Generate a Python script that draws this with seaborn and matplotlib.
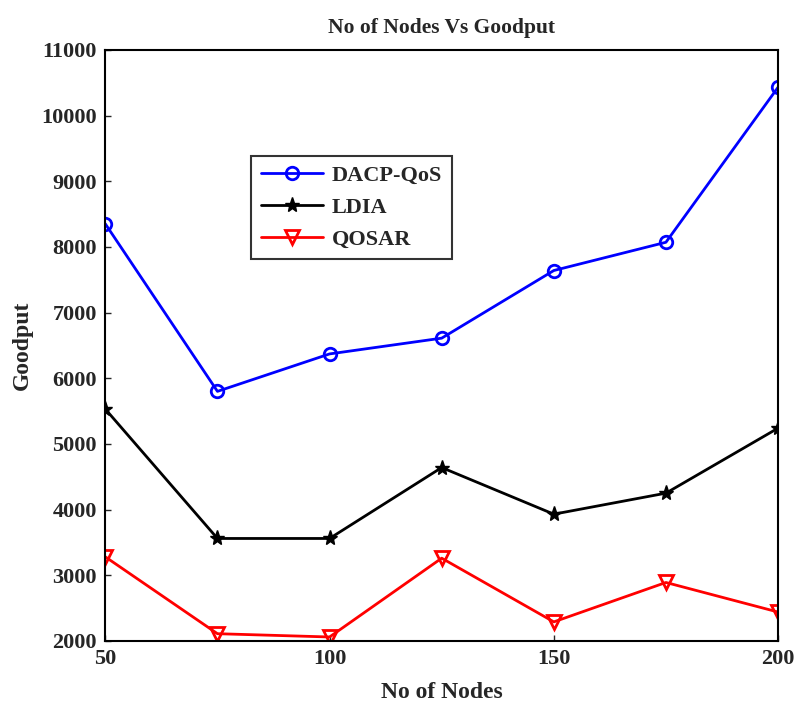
import pandas as pd
import numpy as np
import seaborn as sns
import matplotlib.pyplot as plt

nodes = [50, 75, 100, 125, 150, 175, 200]
dacp = [8350, 5800, 6370, 6610, 7640, 8070, 10430]
ldia = [5530, 3560, 3560, 4640, 3930, 4250, 5240]
qosar = [3280, 2110, 2060, 3260, 2290, 2890, 2440]
names = ["DACP-QoS", "LDIA", "QOSAR"]

sns.set_style("ticks")
plt.rcParams['font.family'] = ['Liberation Serif', 'DejaVu Serif']
plt.rcParams['font.weight'] = 'bold'

fig = plt.figure(figsize=(7.98, 7.02), dpi=100)
ax = fig.add_axes([0.132, 0.087, 0.843, 0.842])

# blue circles, black stars, red triangles
sns.lineplot(x=nodes, y=dacp, color="#0000ff", marker="o", markersize=9,
             markerfacecolor="none", markeredgecolor="#0000ff", markeredgewidth=2,
             linewidth=2, label=names[0], ax=ax)
sns.lineplot(x=nodes, y=ldia, color="black", marker="*", markersize=11,
             markerfacecolor="black", markeredgecolor="black", markeredgewidth=1,
             linewidth=2, label=names[1], ax=ax)
sns.lineplot(x=nodes, y=qosar, color="#ff0000", marker="v", markersize=10,
             markerfacecolor="none", markeredgecolor="#ff0000", markeredgewidth=2,
             linewidth=2, label=names[2], ax=ax)

ax.set_xlim(50, 200)
ax.set_ylim(2000, 11000)
ax.set_xticks([50, 100, 150, 200])
ax.set_yticks(range(2000, 11001, 1000))
ax.tick_params(direction="in", length=4, labelsize=16, width=1, pad=6)
for s in ax.spines.values():
    s.set_linewidth(1.5)
    s.set_color("black")
ax.set_xlabel("No of Nodes", fontsize=17, fontweight="bold", labelpad=9)
ax.set_ylabel("Goodput", fontsize=17, fontweight="bold", labelpad=6)
ax.set_title("No of Nodes Vs Goodput", fontsize=15.5, fontweight="bold", pad=12)

leg = ax.legend(loc="upper left", bbox_to_anchor=(0.2, 0.84), fontsize=16,
                frameon=True, fancybox=False, edgecolor="black",
                handlelength=2.8, handletextpad=0.4, borderpad=0.45, labelspacing=0.5)
leg.get_frame().set_linewidth(1.5)

fig.savefig("out.png", dpi=100)
